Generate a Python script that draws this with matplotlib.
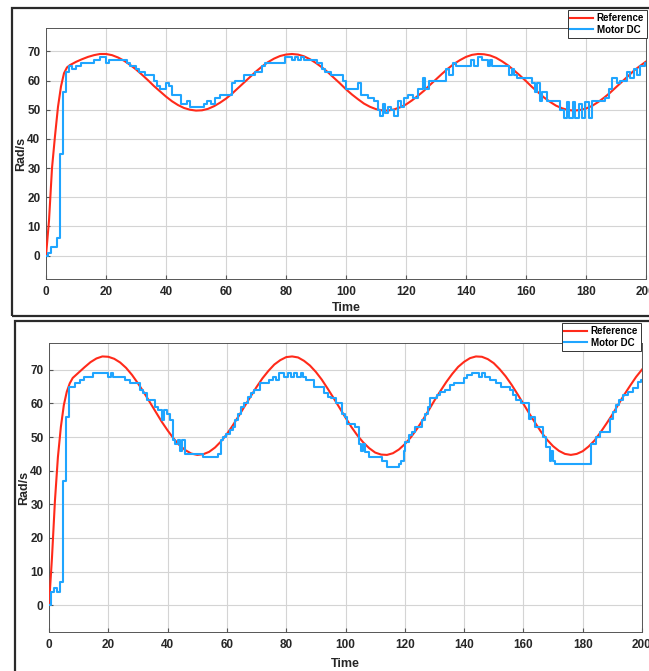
import numpy as np
import matplotlib
matplotlib.use('Agg')
import matplotlib.pyplot as plt
from matplotlib.patches import Rectangle

plt.rcParams['font.family'] = ['Liberation Sans', 'DejaVu Sans']
plt.rcParams['font.weight'] = 'bold'

# sample times of the reference curves (same for both panels)
ref_t = [0, 1, 2, 3, 4, 5, 6, 7] + list(range(8, 201, 2))

# reference, upper panel
ref_top = [0, 12, 30, 41, 51, 58, 62.5, 64.5,
	65.3, 66.4, 67.3, 68.1, 68.7, 69.1,
	69.1, 68.7, 67.9, 66.8, 65.4, 63.8, 62.0, 60.1, 58.1, 56.3,
	54.5, 52.9, 51.6, 50.6, 50.0, 49.7, 49.8, 50.3, 51.2, 52.4,
	53.8, 55.5, 57.4, 59.3, 61.2, 63.1, 64.8, 66.3, 67.5, 68.4, 68.9,
	69.1, 68.9, 68.3, 67.3, 66.0, 64.5, 62.8, 60.9, 59.0, 57.0,
	55.2, 53.6, 52.1, 51.0, 50.2, 49.8, 49.7, 50.1, 50.8, 51.8,
	53.2, 54.8, 56.5, 58.5, 60.4, 62.3, 64.1, 65.7, 67.0, 68.1,
	68.8, 69.1, 69.0, 68.6, 67.8, 66.6, 65.2, 63.5, 61.7, 59.8,
	57.8, 56.0, 54.2, 52.7, 51.4, 50.5, 49.9, 49.7, 49.9, 50.4,
	51.3, 52.6, 54.1, 55.8, 57.7, 59.6, 61.5, 63.4, 65.0, 66.5]

# reference, lower panel
ref_bot = [0, 14, 31, 44, 53, 59.5, 63.5, 66,
	67.6, 69.2, 70.8, 72.3, 73.4, 74.0,
	73.9, 73.3, 72.2, 70.6, 68.5, 66.0, 63.3, 60.4, 57.5, 54.6,
	52.0, 49.6, 47.6, 46.1, 45.1, 44.7, 44.9, 45.6, 46.9, 48.7,
	50.9, 53.5, 56.3, 59.2, 62.1, 64.9, 67.5, 69.7, 71.6, 72.9, 73.8,
	74.0, 73.7, 72.7, 71.3, 69.4, 67.1, 64.4, 61.6, 58.7, 55.8,
	53.0, 50.5, 48.4, 46.7, 45.4, 44.8, 44.7, 45.2, 46.3, 47.9,
	49.9, 52.3, 55.0, 57.9, 60.9, 63.7, 66.4, 68.8, 70.9, 72.4,
	73.5, 74.0, 73.9, 73.2, 72.0, 70.2, 68.1, 65.6, 62.8, 59.9,
	57.0, 54.2, 51.5, 49.2, 47.3, 45.9, 45.0, 44.7, 45.0, 45.8,
	47.2, 49.0, 51.4, 54.0, 56.7, 59.7, 62.6, 65.3, 67.9, 70.1]

# motor speed, upper panel (step change times and held values)
mot_top_t = [0, 0.8, 1.7, 3.8, 4.8, 5.8, 6.7, 7.8, 8.8, 10, 11.5, 16, 18, 20, 21,
	27, 28, 30, 31, 33, 36, 37, 38, 40, 41, 42, 45, 47, 48, 52.5, 53.5, 55,
	56.3, 58, 62, 63, 66, 69.7, 72, 73, 79.7, 82, 83, 84, 85, 86, 90.2, 92,
	93, 95, 99, 100, 104, 105, 107.2, 109.4, 110.5, 111.4, 112.2, 113.1, 114,
	115, 116, 117.2, 118.3, 119.4, 120.6, 122.2, 124, 125.5, 126.4, 127.8,
	133.3, 134.4, 135.5, 136.7, 141.7, 142.8, 144, 145.2, 147.3, 148.1, 148.7,
	154.2, 155.3, 155.9, 157, 162, 163.1, 163.7, 164.8, 165.3, 167, 171.4,
	172.6, 173.7, 174.4, 175.6, 176.4, 177.6, 178.7, 179.8, 180.9, 182, 186.4,
	187.6, 188.7, 190.3, 191.4, 193.7, 194.8, 195.9, 197, 198.1, 199.8, 200]
mot_top_v = [0, 1, 3, 6, 35, 56, 63, 65, 64, 65, 66, 67, 68, 66, 67,
	66, 65, 64, 63, 62, 60, 58, 57, 59, 58, 55, 52, 53, 51, 52, 53, 52,
	54, 55, 59, 60, 62, 63, 65, 66, 68, 67, 68, 67, 68, 67, 66, 64,
	63, 62, 60, 57, 59, 55, 54, 53, 50, 48, 52, 49, 51,
	50, 48, 53, 51, 54, 55, 54, 57, 61, 57, 60,
	64, 62, 66, 65, 67, 65, 68, 67, 65, 67, 65,
	62, 64, 62, 61, 59, 56, 59, 53, 56, 53, 50,
	47, 52.5, 47, 52.5, 47, 52, 47, 52.5, 47, 53, 54,
	57, 61, 59, 60, 63, 61, 64, 62, 65, 66, 66]

# motor speed, lower panel
mot_bot_t = [0, 0.8, 1.8, 2.8, 3.8, 4.8, 5.8, 6.7, 8.8, 10.4, 11.8, 15, 20, 20.8,
	21.7, 25.6, 27.3, 30.7, 31.8, 32.9, 35.7, 36.9, 38, 38.8, 39.7, 40.8, 41.7,
	42.5, 43.6, 44.2, 44.7, 45.8, 51.9, 56.9, 58, 58.6, 59.7, 60.9, 62, 62.9,
	63.7, 64.8, 65.6, 67, 68.2, 69.3, 71, 74.3, 75.5, 76.6, 77.7, 79.4, 80.5,
	81.6, 82.7, 83.8, 84.9, 85.8, 86.7, 89.5, 92.9, 94, 95.1, 96.8, 98.8, 99.7,
	100.5, 103.3, 104.7, 105.2, 105.8, 106.7, 107.8, 112.3, 114, 117.9, 118.8,
	119.6, 120.2, 121.3, 122.4, 123.5, 125.8, 126.9, 127.8, 128.6, 130.8, 132,
	133.6, 135.3, 136.5, 139.8, 141, 142.6, 144.9, 146, 147.1, 148.6, 150.9,
	152.6, 155.4, 156.5, 157.6, 159.3, 161.8, 162.7, 163.8, 166.6, 167.7,
	168.9, 169.4, 170, 170.5, 182.9, 184.6, 185.7, 189.1, 190.2, 191.3, 192.4,
	193.6, 195.3, 197, 198.6, 199.5, 200]
mot_bot_v = [0, 4, 5, 4, 7, 37, 56, 65, 66, 67, 68, 69, 68, 69,
	68, 67, 66, 64, 63, 61, 59, 58, 55, 58, 57, 55, 49,
	48, 49, 46, 49, 45, 44, 45, 49, 50, 51, 52, 53, 55,
	57, 59, 60, 62, 63, 64, 66, 67, 68, 67, 69, 68, 69,
	68, 69, 68, 69, 68, 67, 65, 63, 62, 61.5, 60, 57, 56,
	54, 53, 48, 46, 48, 45.5, 44, 43, 41, 42, 43,
	46, 48.5, 50.5, 51.5, 53, 55, 57, 59, 61.5, 62.5, 63.5,
	64, 65.5, 66, 67.5, 68.5, 69, 68, 69, 68, 67, 66,
	65, 64, 62.5, 61, 60, 55.5, 56, 53, 50, 47,
	43, 46, 43, 42, 48, 50, 51.5, 55.5, 57.5, 59.5, 61,
	62.5, 63.5, 64.5, 66.5, 67, 67]

W, H = 649, 671
fig = plt.figure(figsize=(W / 100, H / 100), dpi=100)

# window frames around the two screenshots
fig.add_artist(Rectangle((12 / W, 1 - 316 / H), 1.0, 308 / H, transform=fig.transFigure,
	fill=False, ec='#2a2a2a', lw=1.6))
fig.add_artist(Rectangle((15 / W, -0.2), 1.0, 0.2 + 1 - 321 / H, transform=fig.transFigure,
	fill=False, ec='#2a2a2a', lw=1.6))


def panel(box, ref_v, mt, mv, leg_xy, ylab_x, xpad):
	l, t, r, b = box
	ax = fig.add_axes([l / W, 1 - b / H, (r - l) / W, (b - t) / H])
	ax.plot(ref_t, ref_v, color='#ff2a1a', lw=1.5, label='Reference', zorder=3)
	ax.step(mt, mv, where='post', color='#1fa5ff', lw=1.5, label='Motor DC', zorder=4)
	ax.set_xlim(0, 200)
	ax.set_ylim(-8, 78)
	ax.set_xticks(range(0, 201, 20))
	ax.set_yticks(range(0, 71, 10))
	ax.grid(True, color='#d4d4d4', lw=0.8)
	ax.set_axisbelow(True)
	for s in ax.spines.values():
		s.set_color('#555555')
		s.set_linewidth(0.7)
	ax.tick_params(direction='in', length=3, color='#555555', labelcolor='#262626', labelsize=8.5)
	ax.tick_params(axis='x', pad=5)
	ax.tick_params(axis='y', pad=4)
	ax.set_xlabel('Time', fontsize=9, fontweight='bold', labelpad=xpad, color='#262626')
	ax.set_ylabel('Rad/s', fontsize=9, fontweight='bold', color='#262626')
	ax.yaxis.set_label_coords((ylab_x - l) / (r - l), 0.5)
	leg = ax.legend(loc='upper right', bbox_to_anchor=(leg_xy[0] / W, 1 - leg_xy[1] / H),
		bbox_transform=fig.transFigure, borderaxespad=0, fontsize=7, handlelength=2.3,
		handletextpad=0.4, borderpad=0.3, labelspacing=0.2, fancybox=False, framealpha=1)
	leg.get_frame().set_edgecolor('#333333')
	leg.get_frame().set_linewidth(0.7)
	leg.set_zorder(10)
	return ax


panel((46, 28, 646, 279), ref_top, mot_top_t, mot_top_v, (647, 10), 27, 3)
panel((49, 343, 642, 632), ref_bot, mot_bot_t, mot_bot_v, (641, 323), 30, 5)

fig.savefig('out.png', dpi=100)
